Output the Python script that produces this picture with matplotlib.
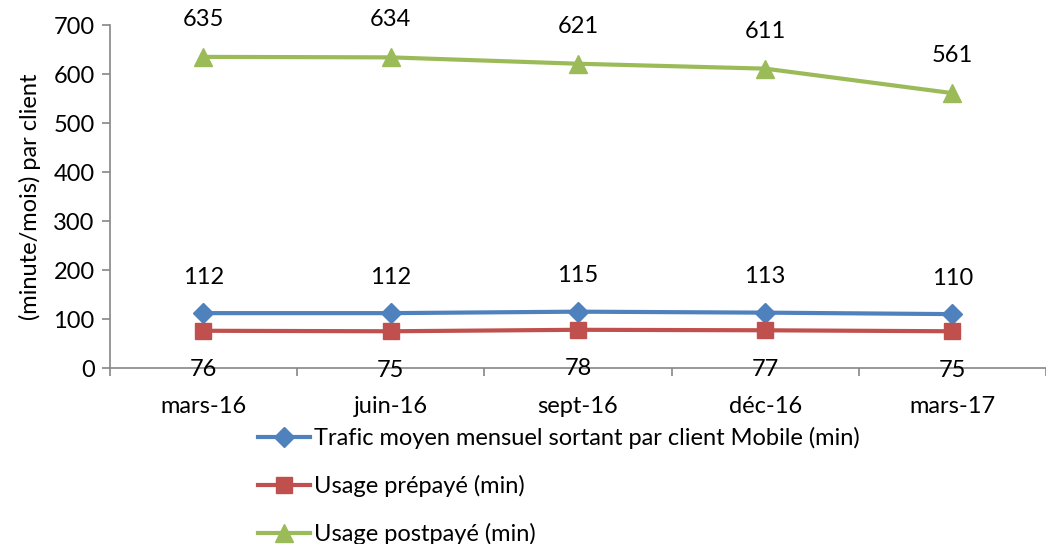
import matplotlib
matplotlib.use("Agg")
import matplotlib.pyplot as plt

plt.rcParams['font.family'] = ['Lato', 'DejaVu Sans']

categories = ['mars-16', 'juin-16', 'sept-16', 'déc-16', 'mars-17']
trafic = [112, 112, 115, 113, 110]
prepaye = [76, 75, 78, 77, 75]
postpaye = [635, 634, 621, 611, 561]
series_names = ['Trafic moyen mensuel sortant par client Mobile (min)',
                'Usage prépayé (min)',
                'Usage postpayé (min)']

blue = '#4F81BD'
red = '#C0504D'
green = '#9BBB59'
grey = '#868686'
fs = 17

fig = plt.figure(figsize=(10.46, 5.44), dpi=100)
ax = fig.add_axes([0.105, 0.3235, 0.895, 0.6305])

x = list(range(len(categories)))
l1, = ax.plot(x, trafic, color=blue, lw=3, marker='D', ms=10, label=series_names[0])
l2, = ax.plot(x, prepaye, color=red, lw=3, marker='s', ms=12, label=series_names[1])
l3, = ax.plot(x, postpaye, color=green, lw=3, marker='^', ms=13, label=series_names[2])

# data labels
for i in x:
    ax.annotate(str(trafic[i]), (i, trafic[i]), xytext=(0, 26), textcoords='offset points',
                ha='center', va='center', fontsize=fs)
    ax.annotate(str(prepaye[i]), (i, prepaye[i]), xytext=(0, -28), textcoords='offset points',
                ha='center', va='center', fontsize=fs)
    ax.annotate(str(postpaye[i]), (i, postpaye[i]), xytext=(0, 27), textcoords='offset points',
                ha='center', va='center', fontsize=fs)

ax.set_xlim(-0.5, 4.5)
ax.set_ylim(0, 700)
ax.set_yticks(range(0, 701, 100))
ax.set_xticks(x)
ax.set_xticklabels(categories, fontsize=fs)
ax.set_xticks([i + 0.5 for i in range(-1, 5)], minor=True)
ax.tick_params(axis='x', which='major', length=0, pad=20)
ax.tick_params(axis='x', which='minor', length=6, color=grey, width=1.2)
ax.tick_params(axis='y', length=6, color=grey, width=1.2, labelsize=fs, pad=5)
ax.set_ylabel('(minute/mois) par client', fontsize=fs, labelpad=9)

for s in ['top', 'right']:
    ax.spines[s].set_visible(False)
for s in ['left', 'bottom']:
    ax.spines[s].set_color(grey)
    ax.spines[s].set_linewidth(1.2)

fig.legend(handles=[l1, l2, l3], loc='upper left', bbox_to_anchor=(0.238, 0.232),
           frameon=False, fontsize=fs, labelspacing=1.1, handlelength=2.2,
           handletextpad=0.15, borderaxespad=0)

fig.savefig('out.png', dpi=100)
